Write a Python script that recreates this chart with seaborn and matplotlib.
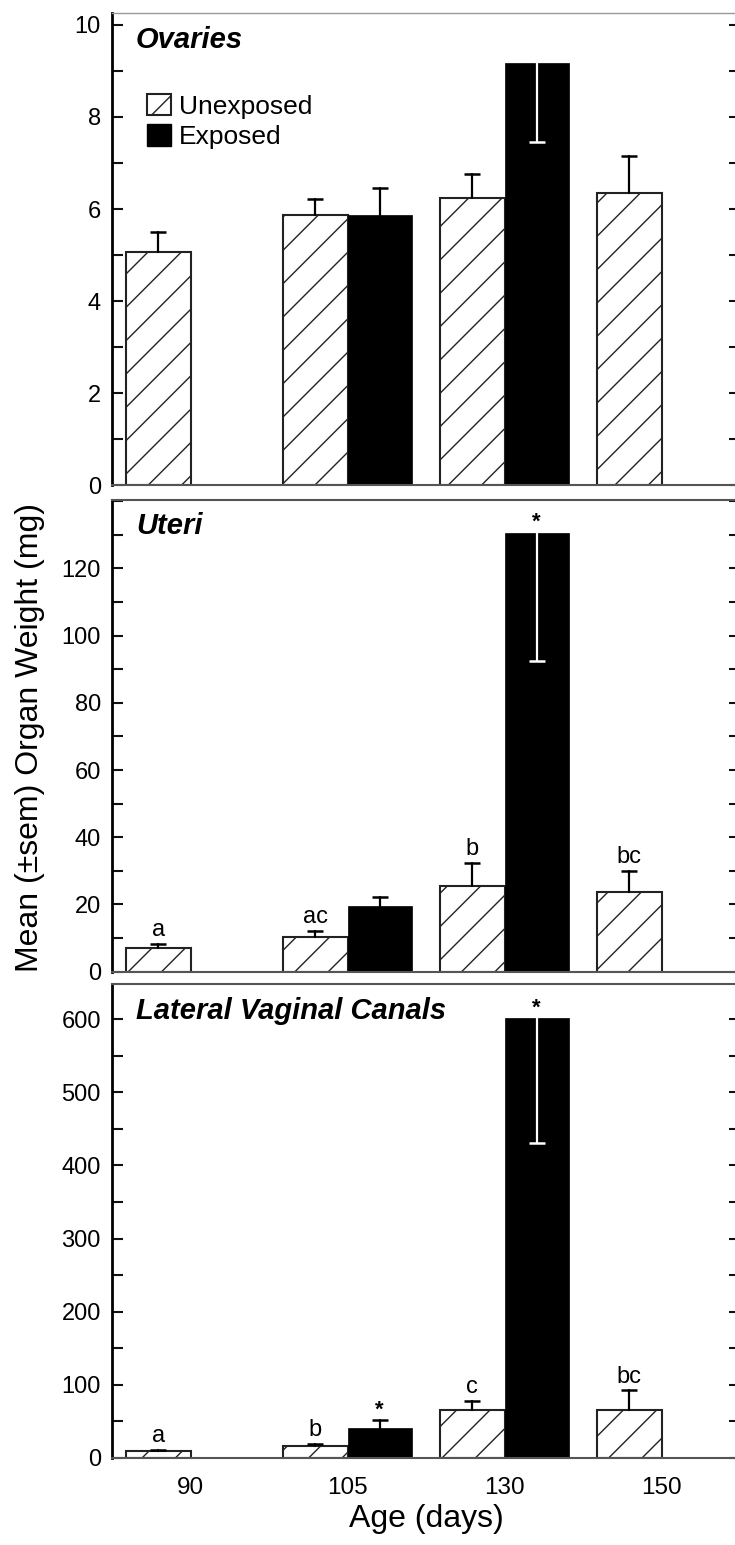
import numpy as np
import pandas as pd
import seaborn as sns
import matplotlib.pyplot as plt
from matplotlib.patches import Patch
from matplotlib.ticker import MultipleLocator

sns.set_theme(style="white")
plt.rcParams['font.family'] = ['Liberation Sans', 'DejaVu Sans']
plt.rcParams['hatch.linewidth'] = 1.0
plt.rcParams['text.color'] = 'black'
plt.rcParams['axes.labelcolor'] = 'black'
plt.rcParams['xtick.labelcolor'] = 'black'
plt.rcParams['ytick.labelcolor'] = 'black'

ages = ["90", "105", "130", "150"]
groups = ["Unexposed", "Exposed"]
nan = np.nan

# ovaries
ov_unexp = [5.07, 5.88, 6.23, 6.34]
ov_unexp_sem = [0.42, 0.34, 0.53, 0.81]
ov_exp = [nan, 5.88, 9.16, nan]
ov_exp_sem = [nan, 0.57, 1.70, nan]

# uteri
ut_unexp = [7.1, 10.4, 25.6, 23.8]
ut_unexp_sem = [1.1, 1.7, 6.7, 6.2]
ut_exp = [nan, 19.4, 130.6, nan]
ut_exp_sem = [nan, 2.7, 38.1, nan]
ut_unexp_letters = ["a", "ac", "b", "bc"]
ut_exp_letters = ["", "", "*", ""]

# lateral vaginal canals
lv_unexp = [9.8, 16.7, 65.6, 65.6]
lv_unexp_sem = [1.5, 2.8, 12.4, 26.9]
lv_exp = [nan, 41.4, 601.0, nan]
lv_exp_sem = [nan, 10.2, 170.0, nan]
lv_unexp_letters = ["a", "b", "c", "bc"]
lv_exp_letters = ["", "*", "*", ""]

W, H = 735, 1545
fig = plt.figure(figsize=(W / 100, H / 100), dpi=100)

def frac(left, top, right, bottom):
    return [left / W, 1 - bottom / H, (right - left) / W, (bottom - top) / H]

def draw_panel(ax, unexp, unexp_sem, exp, exp_sem, ymax, major, title,
               letters_u=None, letters_e=None):
    df = pd.DataFrame({"age": ages * 2,
                       "group": ["Unexposed"] * 4 + ["Exposed"] * 4,
                       "weight": unexp + exp}).dropna()
    sems = {"Unexposed": unexp_sem, "Exposed": exp_sem}
    letters = {"Unexposed": letters_u or [""] * 4, "Exposed": letters_e or [""] * 4}
    sns.barplot(data=df, x="age", y="weight", hue="group", order=ages,
                hue_order=groups, palette={"Unexposed": "white", "Exposed": "black"},
                width=0.82, errorbar=None, saturation=1, legend=False, ax=ax)
    for grp, cont in zip(groups, ax.containers):
        for bar in cont:
            if grp == "Unexposed":
                bar.set_facecolor("white")
                bar.set_edgecolor("#222222")
                bar.set_hatch("/")
                bar.set_linewidth(1.5)
            else:
                bar.set_facecolor("black")
                bar.set_edgecolor("black")
                bar.set_linewidth(0.5)
            x = bar.get_x() + bar.get_width() / 2
            h = bar.get_height()
            i = int(round(x))
            s = sems[grp][i]
            # error bars that would leave the axes are drawn downward in white
            if h + s > ymax:
                end, col, top = h - s, "white", h
            else:
                end, col, top = h + s, "black", h + s
            ax.plot([x, x], [h, end], color=col, lw=1.6, zorder=5)
            ax.plot([x], [end], marker="_", ms=11, mew=1.8, color=col, zorder=5)
            lab = letters[grp][i]
            if lab:
                star = lab == "*"
                ax.annotate(lab, (x, top), xytext=(0, 0 if star else 2),
                            textcoords="offset points", ha="center", va="bottom",
                            fontsize=16 if star else 17,
                            fontweight="bold" if star else "normal")
    ax.set_xlim(-0.5, 3.5)
    ax.set_ylim(0, ymax)
    ax.set_yticks(np.arange(0, ymax - 0.1 * major, major))
    ax.yaxis.set_minor_locator(MultipleLocator(major / 2))
    ax.tick_params(axis="y", which="both", direction="in", length=8, width=1.5,
                   left=True, right=True, labelsize=17, pad=8, color="#111111")
    ax.tick_params(axis="x", length=0, labelsize=17.5, pad=14)
    ax.set_xlabel("")
    ax.set_ylabel("")
    for sp in ["top", "bottom", "right"]:
        ax.spines[sp].set_color("#555555")
        ax.spines[sp].set_linewidth(1.5)
    ax.spines["left"].set_color("black")
    ax.spines["left"].set_linewidth(2)
    ax.text(0.038, 0.943, title, transform=ax.transAxes, fontsize=21,
            fontweight="bold", style="italic", va="center", ha="left")

ax1 = fig.add_axes(frac(112, 13.3, 740, 485.3))
ax2 = fig.add_axes(frac(112, 499.5, 740, 971.7))
ax3 = fig.add_axes(frac(112, 984, 740, 1458))

draw_panel(ax1, ov_unexp, ov_unexp_sem, ov_exp, ov_exp_sem, 10.25, 2, "Ovaries")
draw_panel(ax2, ut_unexp, ut_unexp_sem, ut_exp, ut_exp_sem, 140.5, 20, "Uteri",
           ut_unexp_letters, ut_exp_letters)
draw_panel(ax3, lv_unexp, lv_unexp_sem, lv_exp, lv_exp_sem, 648, 100,
           "Lateral Vaginal Canals", lv_unexp_letters, lv_exp_letters)

ax1.spines["top"].set_color("#999999")
ax1.spines["top"].set_linewidth(1)
ax1.set_xticklabels([])
ax2.set_xticklabels([])
ax3.set_xlabel("Age (days)", fontsize=23, labelpad=3)

handles = [Patch(facecolor="white", edgecolor="#222222", hatch="/", linewidth=1.5),
           Patch(facecolor="black", edgecolor="black")]
ax1.legend(handles, groups, loc="upper left", bbox_to_anchor=(0.0557, 0.83),
           frameon=False, fontsize=19, handlelength=0.9, handleheight=0.9,
           handletextpad=0.3, labelspacing=0.2, borderpad=0, borderaxespad=0)

fig.text(30 / W, 1 - 737 / H, "Mean (±sem) Organ Weight (mg)", rotation=90,
         ha="center", va="center", fontsize=23)

fig.savefig("out.png", dpi=100)
